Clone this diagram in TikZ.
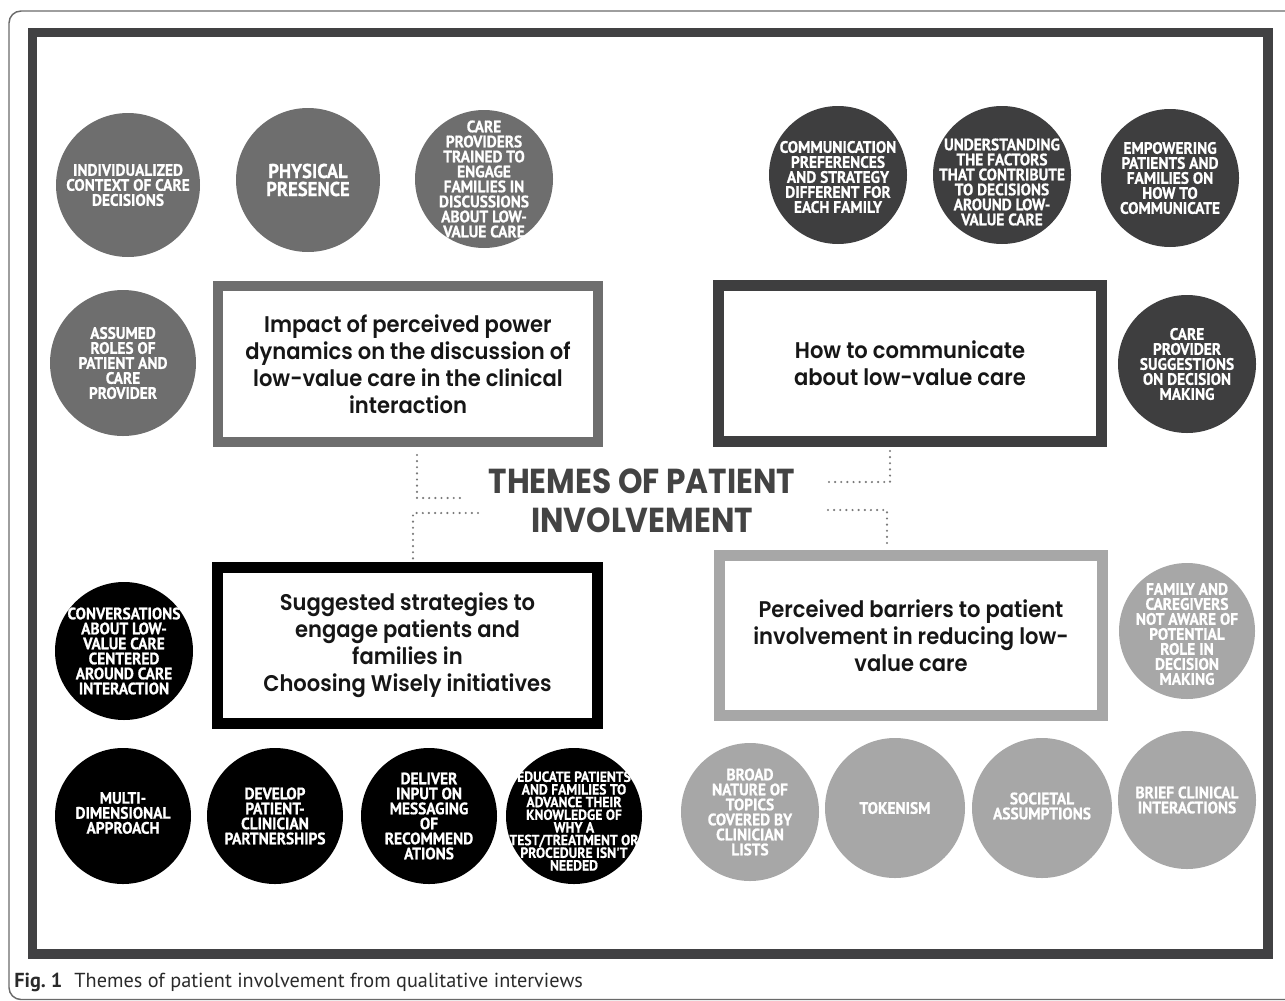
\documentclass[tikz,border=0pt]{standalone}
\usepackage{fontspec}
\newfontfamily\circfont{PT Sans}[FakeStretch=0.93, BoldFeatures={FakeBold=0.8}]
\newfontfamily\boxfont{Poppins SemiBold}[FakeStretch=0.93]
\newfontfamily\titlefont{Poppins}[FakeStretch=0.9]
\newfontfamily\capfont{PT Sans}

\definecolor{midgray}{HTML}{6E6E6E}
\definecolor{deepgray}{HTML}{3E3E3F}
\definecolor{palegray}{HTML}{A7A7A7}
\definecolor{framegray}{HTML}{414143}
\definecolor{titlegray}{HTML}{434343}
\definecolor{boxtext}{HTML}{161616}
\definecolor{dotgray}{HTML}{7A7A7A}
\definecolor{edgegray}{HTML}{6A6A6A}
\definecolor{captext}{HTML}{2A2A2A}

\tikzset{
  bubble/.style={circle, inner sep=0pt, draw=none},
  bubbletext/.style={inner sep=0pt, align=center, text=white,
    font=\circfont\bfseries\fontsize{12.4}{11.25}\selectfont},
  theme/.style={rectangle, draw, line width=7.9pt, fill=white,
    minimum width=285pt, minimum height=117pt, align=center, inner sep=0pt,
    text=boxtext, font=\boxfont\fontsize{17}{20.25}\selectfont},
  dots/.style={draw=dotgray, line width=1.8pt, line cap=round,
    dash pattern=on 0pt off 4.6pt},
}

\begin{document}
\begin{tikzpicture}[x=0.75pt, y=-0.75pt]
\useasboundingbox (0,0) rectangle (1285,1000);

% page frame and dark border
\draw[edgegray, line width=1.1pt, rounded corners=9pt]
  (1320,999.5) -- (9,999.5) -- (9,11) -- (1320,11);
\draw[framegray, line width=7.1pt] (32.5,32.5) rectangle (1268,954);

% theme boxes
\node[theme, draw=midgray] (impact) at (408,364)
  {Impact of perceived power\\dynamics on the discussion of\\low-value care in the clinical\\interaction};
\node[theme, draw=deepgray, line width=8.25pt, minimum width=287.25pt] (howto) at (910,363.5)
  {How to communicate\\about low-value care};
\node[theme, draw=black] (strat) at (407.5,645.5)
  {Suggested strategies to\\engage patients and\\families in\\Choosing Wisely initiatives};
\node[theme, draw=palegray, line width=8.25pt, minimum width=287.25pt, minimum height=120pt] (barrier) at (911,635.5)
  {Perceived barriers to patient\\involvement in reducing low-\\value care};

% central title
\node[inner sep=0pt, align=center, text=titlegray,
  font=\titlefont\bfseries\fontsize{26}{29.25}\selectfont] (title) at (642,501)
  {THEMES OF PATIENT\\INVOLVEMENT};

% dotted links between the title and the boxes
\coordinate (tlA) at (417,455);
\coordinate (tlB) at (417,498);
\coordinate (tlC) at (460,498);
\draw[dots] (tlA) -- (tlB) -- (tlC);
\coordinate (blA) at (478,513);
\coordinate (blB) at (413,513);
\coordinate (blC) at (413,559);
\draw[dots] (blA) -- (blB) -- (blC);
\coordinate (trA) at (890,451);
\coordinate (trB) at (890,482);
\coordinate (trC) at (828,482);
\draw[dots] (trA) -- (trB) -- (trC);
\coordinate (brA) at (828,510);
\coordinate (brB) at (887,510);
\coordinate (brC) at (887,547);
\draw[dots] (brA) -- (brB) -- (brC);

% power dynamics (mid gray)
\node[bubble, fill=midgray, minimum size=108pt] (c1) at (128,185) {};
\node[bubbletext] (c1t) at (c1) {INDIVIDUALIZED\\CONTEXT OF CARE\\DECISIONS};
\node[bubble, fill=midgray, minimum size=108pt] (c2) at (308,180) {};
\node[bubbletext, font=\circfont\bfseries\fontsize{15}{13.5}\selectfont] (c2t) at (c2) {PHYSICAL\\PRESENCE};
\node[bubble, fill=midgray, minimum size=103.5pt] (c3) at (484,179) {};
\node[bubbletext] (c3t) at (c3) {CARE\\PROVIDERS\\TRAINED TO\\ENGAGE\\FAMILIES IN\\DISCUSSIONS\\ABOUT LOW-\\VALUE CARE};
\node[bubble, fill=midgray, minimum size=109.5pt] (c4) at (123,363) {};
\node[bubbletext] (c4t) at (c4) {ASSUMED\\ROLES OF\\PATIENT AND\\CARE\\PROVIDER};

% how to communicate (dark gray)
\node[bubble, fill=deepgray, minimum size=103.5pt] (c5) at (838,175) {};
\node[bubbletext] (c5t) at (838,177) {COMMUNICATION\\PREFERENCES\\AND STRATEGY\\DIFFERENT FOR\\EACH FAMILY};
\node[bubble, fill=deepgray, minimum size=103.5pt] (c6) at (1002,175) {};
\node[bubbletext] (c6t) at (1002,182) {UNDERSTANDING\\THE FACTORS\\THAT CONTRIBUTE\\TO DECISIONS\\AROUND LOW-\\VALUE CARE};
\node[bubble, fill=deepgray, minimum size=103.5pt] (c7) at (1170,178) {};
\node[bubbletext] (c7t) at (c7) {EMPOWERING\\PATIENTS AND\\FAMILIES ON\\HOW TO\\COMMUNICATE};
\node[bubble, fill=deepgray, minimum size=103.5pt] (c8) at (1187,364) {};
\node[bubbletext] (c8t) at (c8) {CARE\\PROVIDER\\SUGGESTIONS\\ON DECISION\\MAKING};

% strategies (black)
\node[bubble, fill=black, minimum size=103.5pt] (c9) at (124,651) {};
\node[bubbletext] (c9t) at (c9) {CONVERSATIONS\\ABOUT LOW-\\VALUE CARE\\CENTERED\\AROUND CARE\\INTERACTION};
\node[bubble, fill=black, minimum size=102pt] (c10) at (123,816) {};
\node[bubbletext] (c10t) at (123,813) {MULTI-\\DIMENSIONAL\\APPROACH};
\node[bubble, fill=black, minimum size=102pt] (c11) at (275,816) {};
\node[bubbletext] (c11t) at (c11) {DEVELOP\\PATIENT-\\CLINICIAN\\PARTNERSHIPS};
\node[bubble, fill=black, minimum size=102pt] (c12) at (429,816) {};
\node[bubbletext] (c12t) at (c12) {DELIVER\\INPUT ON\\MESSAGING\\OF\\RECOMMEND\\ATIONS};
\node[bubble, fill=black, minimum size=102pt] (c13) at (574,816) {};
\node[bubbletext, font=\circfont\bfseries\fontsize{11}{9.5}\selectfont] (c13t) at (574,821)
  {EDUCATE PATIENTS\\AND FAMILIES TO\\ADVANCE THEIR\\KNOWLEDGE OF\\WHY A\\TEST/TREATMENT OR\\PROCEDURE ISN'T\\NEEDED};

% barriers (light gray)
\node[bubble, fill=palegray, minimum size=102pt] (c14) at (1187,631) {};
\node[bubbletext] (c14t) at (1187,634) {FAMILY AND\\CAREGIVERS\\NOT AWARE OF\\POTENTIAL\\ROLE IN\\DECISION\\MAKING};
\node[bubble, fill=palegray, minimum size=103.5pt] (c15) at (750,812) {};
\node[bubbletext] (c15t) at (c15) {BROAD\\NATURE OF\\TOPICS\\COVERED BY\\CLINICIAN\\LISTS};
\node[bubble, fill=palegray, minimum size=105pt] (c16) at (895,808) {};
\node[bubbletext] (c16t) at (c16) {TOKENISM};
\node[bubble, fill=palegray, minimum size=105pt] (c17) at (1042,808) {};
\node[bubbletext] (c17t) at (1042,806) {SOCIETAL\\ASSUMPTIONS};
\node[bubble, fill=palegray, minimum size=103.5pt] (c18) at (1187,800) {};
\node[bubbletext] (c18t) at (c18) {BRIEF CLINICAL\\INTERACTIONS};

% caption
\node[anchor=base west, inner sep=0pt, text=captext,
  font=\capfont\fontsize{15.2}{17}\selectfont] (caption) at (14,987)
  {{\bfseries Fig.~1}\hspace{9pt}Themes of patient involvement from qualitative interviews};
\end{tikzpicture}
\end{document}
